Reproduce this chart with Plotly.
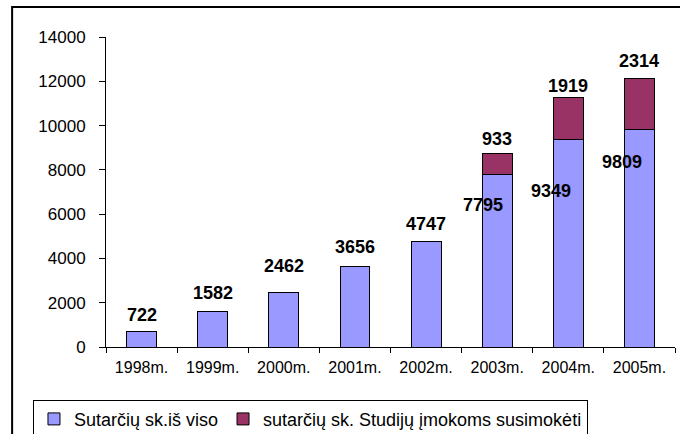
import plotly.graph_objects as go

# duomenys
years = ['1998m.', '1999m.', '2000m.', '2001m.', '2002m.', '2003m.', '2004m.', '2005m.']
total_contracts = [722, 1582, 2462, 3656, 4747, 7795, 9349, 9809]
tuition_contracts = [0, 0, 0, 0, 0, 933, 1919, 2314]

COLOR_TOTAL = '#9999FF'
COLOR_TUITION = '#993366'
FONT = 'Liberation Sans, Arial, sans-serif'

# etikečių poslinkiai (px)
top_shift = [16, 19, 26, 19, 18, 15, 11, 18]
inner_shift_y = [-31, -51, -32]
inner_shift_x = [-14, -17, -17]

fig = go.Figure()
fig.add_trace(go.Bar(
    x=years, y=total_contracts, name='Sutarčių sk.iš viso',
    marker=dict(color=COLOR_TOTAL, line=dict(color='black', width=1)),
    width=0.42, hoverinfo='x+y'
))
fig.add_trace(go.Bar(
    x=years, y=tuition_contracts, name='sutarčių sk. Studijų įmokoms susimokėti',
    marker=dict(color=COLOR_TUITION, line=dict(color='black', width=1)),
    width=0.42, hoverinfo='x+y'
))

# viršutinės etiketės
for i, yr in enumerate(years):
    top = total_contracts[i] + tuition_contracts[i]
    value = tuition_contracts[i] if tuition_contracts[i] else total_contracts[i]
    fig.add_annotation(x=yr, y=top, text=f'<b>{value}</b>', showarrow=False,
                       yanchor='middle', yshift=top_shift[i],
                       font=dict(family=FONT, size=18, color='black'))

# vidinės etiketės (2003-2005)
k = 0
for i, yr in enumerate(years):
    if tuition_contracts[i]:
        fig.add_annotation(x=yr, y=total_contracts[i], text=f'<b>{total_contracts[i]}</b>',
                           showarrow=False, yanchor='middle',
                           yshift=inner_shift_y[k], xshift=inner_shift_x[k],
                           font=dict(family=FONT, size=18, color='black'))
        k += 1

# rėmelis aplink diagramą
fig.add_shape(type='rect', xref='paper', yref='paper',
              x0=-0.165, x1=1.05, y0=-0.4, y1=1.097,
              line=dict(color='black', width=2))

fig.update_layout(
    barmode='stack',
    width=680, height=434,
    margin=dict(l=106, r=5, t=37, b=87, autoexpand=False),
    plot_bgcolor='white', paper_bgcolor='white',
    font=dict(family=FONT, color='black', size=16),
    showlegend=True,
    legend=dict(orientation='h', xref='container', yref='container',
                x=0.0485, y=0.079, xanchor='left', yanchor='top',
                bordercolor='black', borderwidth=1, bgcolor='white',
                traceorder='normal',
                font=dict(family=FONT, size=18, color='black'),
                itemwidth=30, tracegroupgap=0),
    xaxis=dict(showline=True, linecolor='black', linewidth=1, ticks='outside',
               tickson='boundaries', ticklen=5, tickcolor='black',
               showgrid=False, ticklabelstandoff=6, automargin=False,
               tickfont=dict(family=FONT, size=16, color='black')),
    yaxis=dict(range=[0, 14000], dtick=2000, tickformat='d', showline=True,
               linecolor='black', linewidth=1, ticks='outside', ticklen=6,
               tickcolor='black', showgrid=False, zeroline=False,
               ticklabelstandoff=10, automargin=False,
               tickfont=dict(family=FONT, size=17, color='black')),
)

fig.write_html('out.html', config={'displayModeBar': False},
               post_script="document.body.style.margin='0';")
